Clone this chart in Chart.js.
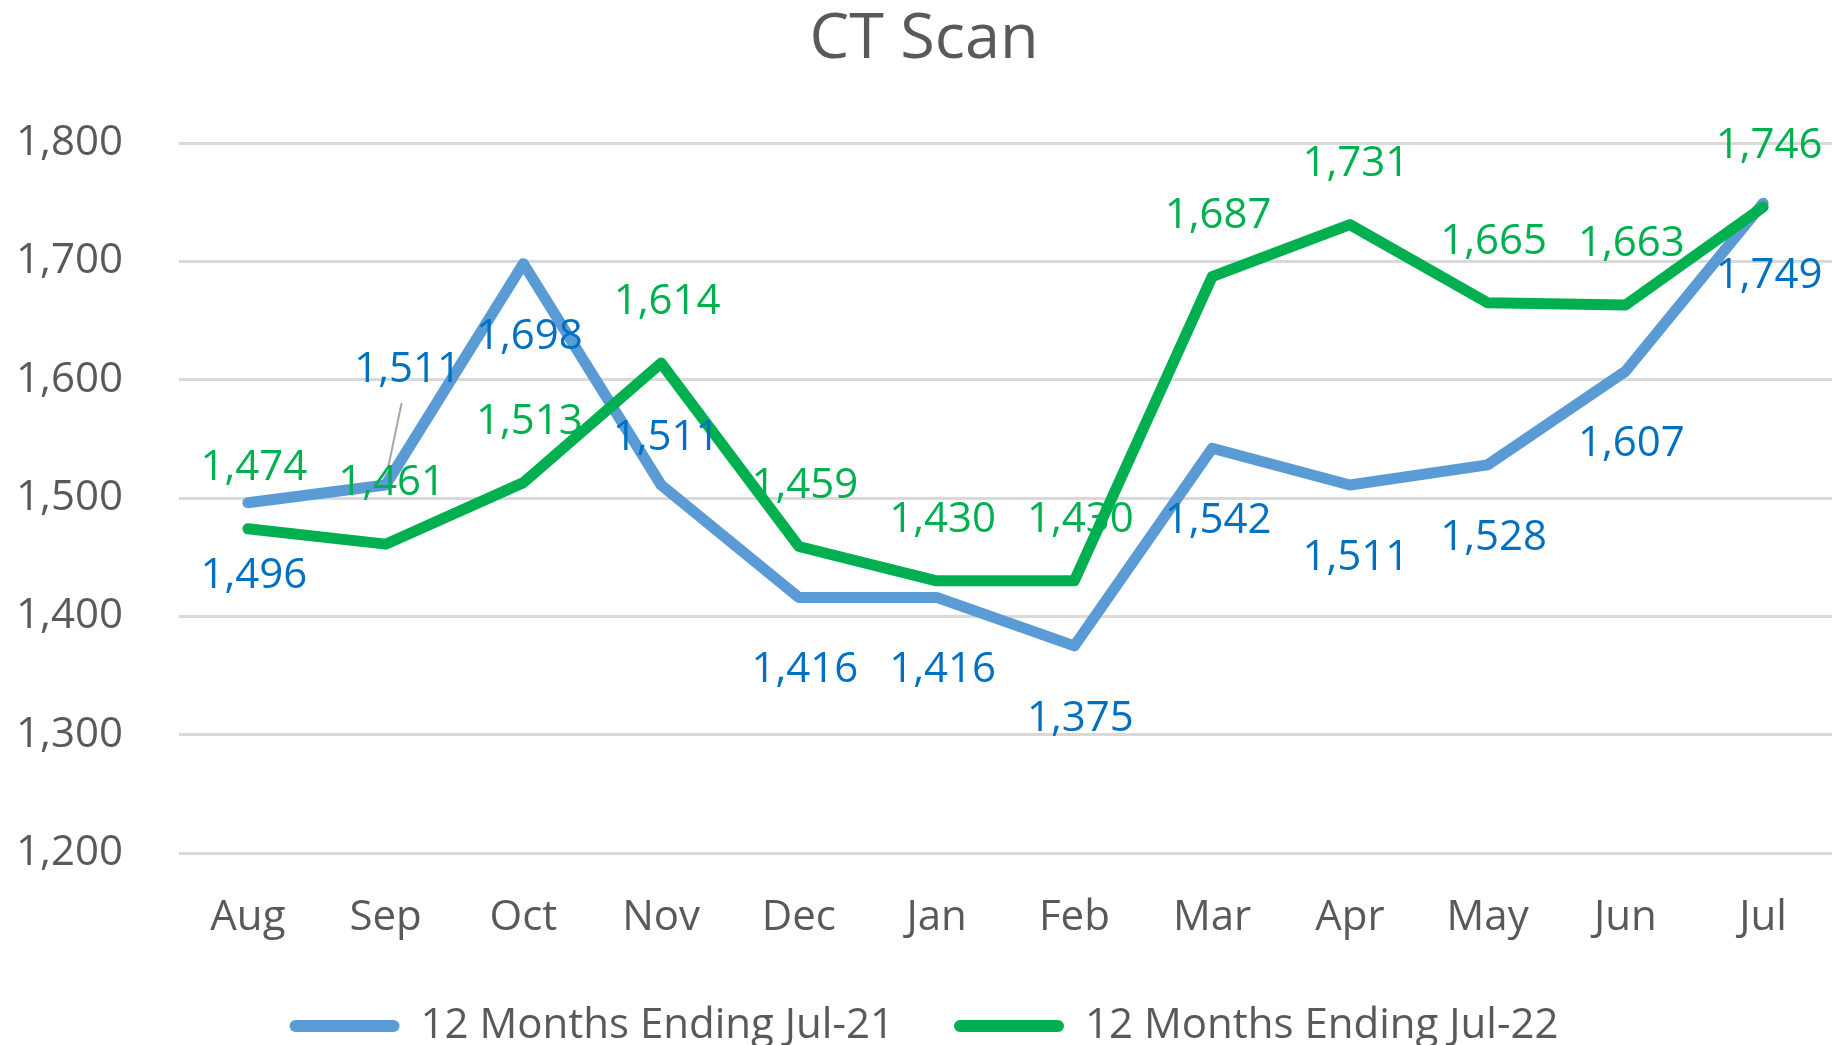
<!DOCTYPE html>
<html>
<head>
<meta charset="utf-8">
<script src="https://cdn.jsdelivr.net/npm/chart.js@4.4.1/dist/chart.umd.min.js"></script>
<style>
html,body{margin:0;padding:0;background:#ffffff;}
canvas{display:block;}
</style>
</head>
<body>
<canvas id="c" width="1847" height="1045"></canvas>
<script>
const chartTitle = 'CT Scan';
const categories = ['Aug','Sep','Oct','Nov','Dec','Jan','Feb','Mar','Apr','May','Jun','Jul'];
const seriesNames = ['12 Months Ending Jul-21','12 Months Ending Jul-22'];
const valuesJul21 = [1496,1511,1698,1511,1416,1416,1375,1542,1511,1528,1607,1749];
const valuesJul22 = [1474,1461,1513,1614,1459,1430,1430,1687,1731,1665,1663,1746];
const yTicks = [1200,1300,1400,1500,1600,1700,1800];

const fmt = v => Number(v).toLocaleString('en-US');

Chart.defaults.font.family = '"Open Sans", "Noto Sans", sans-serif';
Chart.defaults.color = '#595959';

// label placement style (offsets from each point, in px)
const labelStyle = [
  {color:'#0070C0', dx:6, dy:70, overrides:{1:{dx:22, dy:-118, leader:true}, 3:{dx:5, dy:-50}}},
  {color:'#00B050', dx:6, dy:-64, overrides:{}}
];

const dataLabelPlugin = {
  id: 'dataLabels',
  afterDatasetsDraw(chart) {
    const ctx = chart.ctx;
    chart.data.datasets.forEach((ds, di) => {
      const meta = chart.getDatasetMeta(di);
      const st = labelStyle[di];
      meta.data.forEach((pt, i) => {
        const o = Object.assign({dx: st.dx, dy: st.dy}, st.overrides[i] || {});
        const lx = pt.x + o.dx, ly = pt.y + o.dy;
        ctx.save();
        if (o.leader) {
          ctx.strokeStyle = '#A6A6A6';
          ctx.lineWidth = 2;
          ctx.beginPath();
          ctx.moveTo(lx - 6, ly + 36);
          ctx.lineTo(pt.x + 2, pt.y - 15);
          ctx.stroke();
        }
        ctx.font = '42px "Open Sans", "Noto Sans", sans-serif';
        ctx.fillStyle = st.color;
        ctx.textAlign = 'center';
        ctx.textBaseline = 'alphabetic';
        ctx.fillText(fmt(ds.data[i]), lx, ly + 15);
        ctx.restore();
      });
    });
  }
};

new Chart(document.getElementById('c'), {
  type: 'line',
  data: {
    labels: categories,
    datasets: [
      {label: seriesNames[0], data: valuesJul21, borderColor:'#5B9BD5', backgroundColor:'#5B9BD5',
       borderWidth: 11, pointRadius: 0, pointHoverRadius: 0, tension: 0, fill: false,
       borderJoinStyle:'round', borderCapStyle:'round', order: 1},
      {label: seriesNames[1], data: valuesJul22, borderColor:'#00B050', backgroundColor:'#00B050',
       borderWidth: 11, pointRadius: 0, pointHoverRadius: 0, tension: 0, fill: false,
       borderJoinStyle:'round', borderCapStyle:'round', order: 0}
    ]
  },
  options: {
    responsive: false,
    animation: false,
    events: [],
    layout: {padding: {left: 16, right: 15, top: 0, bottom: -12}},
    plugins: {
      tooltip: {enabled: false},
      title: {
        display: true, text: chartTitle, color: '#595959',
        font: {size: 63, weight: 'normal', lineHeight: 1.1},
        padding: {top: 5.5, bottom: 68.2}
      },
      legend: {
        position: 'bottom',
        labels: {
          boxWidth: 110, boxHeight: 12, useBorderRadius: true, borderRadius: 6,
          padding: 60, color: '#595959', font: {size: 42},
          generateLabels(chart) {
            const items = Chart.defaults.plugins.legend.labels.generateLabels(chart);
            items.forEach(it => {
              const c = chart.data.datasets[it.datasetIndex].borderColor;
              it.lineWidth = 0; it.fillStyle = c; it.strokeStyle = c;
            });
            return items.sort((a, b) => a.datasetIndex - b.datasetIndex);
          }
        }
      }
    },
    scales: {
      x: {
        offset: true,
        grid: {display: false, drawTicks: false},
        border: {display: false},
        ticks: {color: '#595959', font: {size: 42}, padding: 40, maxRotation: 0, autoSkip: false},
        afterFit(s) { s.height = 92; }
      },
      y: {
        min: yTicks[0], max: yTicks[yTicks.length - 1],
        grid: {color: '#D9D9D9', lineWidth: 3, drawTicks: false},
        border: {display: false},
        ticks: {stepSize: 100, color: '#595959', font: {size: 42}, padding: 56, callback: v => fmt(v)},
        afterBuildTicks(s) { s.ticks = yTicks.map(v => ({value: v})); },
        afterFit(s) { s.width = 163; }
      }
    }
  },
  plugins: [dataLabelPlugin]
});
</script>
</body>
</html>
